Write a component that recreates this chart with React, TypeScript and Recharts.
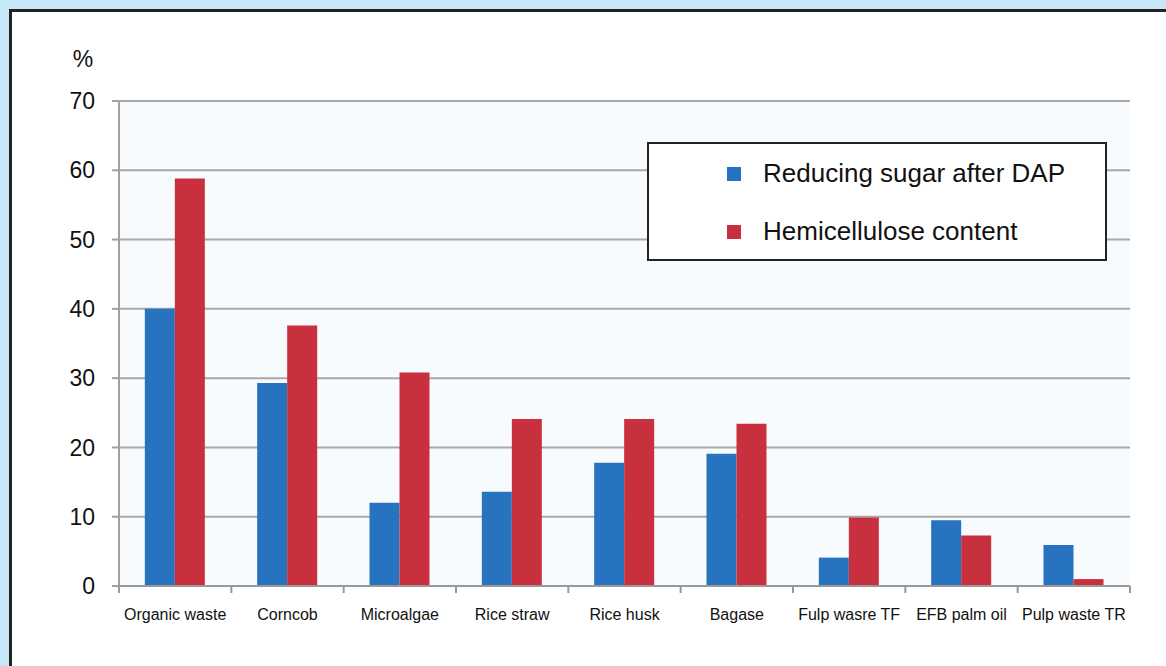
import React from 'react';
import { BarChart, Bar, XAxis, YAxis, CartesianGrid, Legend } from 'recharts';

const categories = [
  'Organic waste',
  'Corncob',
  'Microalgae',
  'Rice straw',
  'Rice husk',
  'Bagase',
  'Fulp wasre TF',
  'EFB palm oil',
  'Pulp waste TR',
];
const reducingSugar = [40, 29.3, 12, 13.6, 17.8, 19.1, 4.1, 9.5, 5.9];
const hemicellulose = [58.8, 37.6, 30.8, 24.1, 24.1, 23.4, 9.9, 7.3, 1.0];
const yTicks = [0, 10, 20, 30, 40, 50, 60, 70];

const BLUE = '#2773bf';
const RED = '#c9303d';
const FONT = '"Liberation Sans", Arial, sans-serif';

const W = 1166;
const H = 666;
const PLOT_LEFT = 119;
const PLOT_RIGHT = 1130;
const PLOT_TOP = 101;
const AXIS_Y = 586;
const BAND = (PLOT_RIGHT - PLOT_LEFT) / categories.length;

const data = categories.map((name, i) => ({
  name,
  sugar: reducingSugar[i],
  hemi: hemicellulose[i],
}));

// label at band centre, tick marks at band edges (like the original)
const XTick = (props: any) => {
  const { x, payload, index } = props;
  const left = x - BAND / 2;
  return (
    <g>
      <line x1={left} y1={AXIS_Y} x2={left} y2={AXIS_Y + 7} stroke="#999" strokeWidth={2} />
      {index === categories.length - 1 && (
        <line x1={x + BAND / 2} y1={AXIS_Y} x2={x + BAND / 2} y2={AXIS_Y + 7} stroke="#999" strokeWidth={2} />
      )}
      <text x={x} y={AXIS_Y + 34} textAnchor="middle" fontSize={16} fill="#111" fontFamily={FONT}>
        {payload.value}
      </text>
    </g>
  );
};

const LegendBox = () => {
  const items = [
    { label: 'Reducing sugar after DAP', color: BLUE, top: 30 },
    { label: 'Hemicellulose content', color: RED, top: 88 },
  ];
  return (
    <div
      style={{
        width: 456,
        height: 115,
        border: '2px solid #222',
        background: '#fff',
        position: 'relative',
        fontFamily: FONT,
      }}
    >
      {items.map(item => (
        <div key={item.label}>
          <div
            style={{
              position: 'absolute',
              left: 78,
              top: item.top - 7,
              width: 14,
              height: 14,
              background: item.color,
            }}
          />
          <div
            style={{
              position: 'absolute',
              left: 114,
              top: item.top - 16,
              fontSize: 26,
              lineHeight: '30px',
              color: '#111',
              whiteSpace: 'nowrap',
            }}
          >
            {item.label}
          </div>
        </div>
      ))}
    </div>
  );
};

const App: React.FC = () => {
  return (
    <div
      style={{
        position: 'absolute',
        left: 0,
        top: 0,
        width: W,
        height: H,
        background: '#c6e7f7',
        overflow: 'hidden',
      }}
    >
      <div
        style={{
          position: 'absolute',
          left: 9,
          top: 9,
          width: W,
          height: H,
          background: '#fff',
          borderTop: '3px solid #222',
          borderLeft: '3px solid #222',
        }}
      />
      <div style={{ position: 'absolute', left: 0, top: 0 }}>
        <BarChart
          width={W}
          height={H}
          data={data}
          margin={{ top: PLOT_TOP, right: W - PLOT_RIGHT, left: PLOT_LEFT - 60, bottom: H - AXIS_Y - 40 }}
          barCategoryGap="23%"
          barGap={0}
        >
          <CartesianGrid vertical={false} stroke="#a8a8a8" strokeWidth={2} fill="#f7fbfe" />
          <XAxis
            dataKey="name"
            height={40}
            interval={0}
            axisLine={{ stroke: '#999', strokeWidth: 2 }}
            tickLine={false}
            tick={<XTick />}
          />
          <YAxis
            width={60}
            domain={[0, 70]}
            ticks={yTicks}
            interval={0}
            axisLine={{ stroke: '#a0a0a0', strokeWidth: 2 }}
            tickLine={{ stroke: '#a0a0a0', strokeWidth: 2 }}
            tickSize={7}
            tickMargin={17}
            tick={{ fontSize: 23, fill: '#111', fontFamily: FONT }}
            label={{
              content: () => (
                <text x={83} y={67} textAnchor="middle" fontSize={23} fill="#111" fontFamily={FONT}>
                  %
                </text>
              ),
            }}
          />
          <Legend
            layout="vertical"
            align="center"
            verticalAlign="middle"
            content={<LegendBox />}
            wrapperStyle={{ left: 647, top: 142, width: 460, height: 119 }}
          />
          <Bar dataKey="sugar" name="Reducing sugar after DAP" fill={BLUE} isAnimationActive={false} />
          <Bar dataKey="hemi" name="Hemicellulose content" fill={RED} isAnimationActive={false} />
        </BarChart>
      </div>
    </div>
  );
};

export default App;
